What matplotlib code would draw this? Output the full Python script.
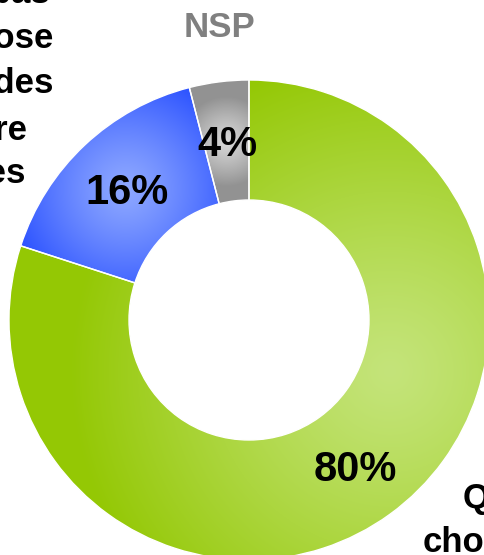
import numpy as np
import matplotlib
matplotlib.use('Agg')
import matplotlib.pyplot as plt
from matplotlib.patches import Wedge
from matplotlib.colors import to_rgb

plt.rcParams['font.family'] = ['Liberation Sans', 'DejaVu Sans']

# slices, clockwise from 12 o'clock
shares = [80, 16, 4]
share_labels = ['80%', '16%', '4%']
light_colors = ['#c4e47a', '#8ea8ff', '#d6d6d6']
dark_colors = ['#94c804', '#3056ff', '#929292']
spread = [320, 115, 45]

left_lines = ['Ne savent pas', 'quelle chose', 'choisir des', 'pour faire', 'les courses']
right_lines = ['Qui', 'choisissent']

W, H = 484, 555
cx, cy = 249, 320
R_out, R_in = 240, 120

fig = plt.figure(figsize=(W / 100, H / 100), dpi=100)
ax = fig.add_axes([0, 0, 1, 1])
ax.set_xlim(0, W)
ax.set_ylim(H, 0)
ax.axis('off')

xx, yy = np.meshgrid(np.arange(W) + 0.5, np.arange(H) + 0.5)

theta = -90.0
for i, s in enumerate(shares):
    t1, t2 = theta, theta + s * 3.6
    mid = np.deg2rad((t1 + t2) / 2)
    r_mid = (R_out + R_in) / 2
    px, py = cx + r_mid * np.cos(mid), cy + r_mid * np.sin(mid)

    # shading: light at the slice centroid, darker toward its edges
    gx, gy = px, py
    if i == 0:
        # big slice: pull the highlight toward the inner right of the ring
        gx, gy = cx + 150 * np.cos(np.deg2rad(20)), cy + 150 * np.sin(np.deg2rad(20))
    d = np.clip(np.hypot(xx - gx, yy - gy) / spread[i], 0, 1) ** 1.2
    lo, hi = np.array(to_rgb(light_colors[i])), np.array(to_rgb(dark_colors[i]))
    img = lo[None, None, :] * (1 - d[..., None]) + hi[None, None, :] * d[..., None]

    w = Wedge((cx, cy), R_out, t1, t2, width=R_out - R_in,
              facecolor='none', edgecolor='none')
    ax.add_patch(w)
    im = ax.imshow(img, extent=(0, W, H, 0), origin='upper', zorder=1)
    im.set_clip_path(w)
    ax.add_patch(Wedge((cx, cy), R_out, t1, t2, width=R_out - R_in,
                       facecolor='none', edgecolor='white', lw=1.0, zorder=2))

    ax.text(px + 1, py + 15, share_labels[i], fontsize=30, fontweight='bold',
            ha='center', va='baseline', color='black', zorder=3)
    theta = t2

ax.text(220, 37, 'NSP', fontsize=25, fontweight='bold', color='#808080',
        ha='center', va='baseline')

left_base = [3, 48, 93, 140, 183]
left_end = [50, 53, 53, 27, 25]
for txt, yb, xe in zip(left_lines, left_base, left_end):
    ax.text(xe, yb, txt, fontsize=25, fontweight='bold', ha='right', va='baseline')

ax.text(463, 508, right_lines[0], fontsize=25, fontweight='bold', ha='left', va='baseline')
ax.text(423, 552, right_lines[1], fontsize=25, fontweight='bold', ha='left', va='baseline')

fig.savefig('out.png', dpi=100)
